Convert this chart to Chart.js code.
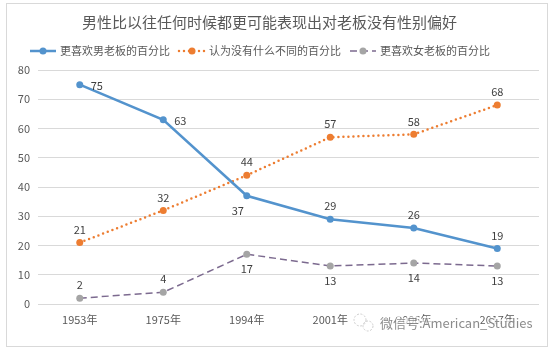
<!DOCTYPE html>
<html>
<head>
<meta charset="utf-8">
<script src="https://cdn.jsdelivr.net/npm/chart.js@4.4.1/dist/chart.umd.min.js"></script>
<style>
html, body { margin: 0; padding: 0; background: #fff; }
</style>
</head>
<body>
<canvas id="chart" width="559" height="350"></canvas>
<script>
// data
const years = ['1953年', '1975年', '1994年', '2001年', '2006年', '2017年'];
const preferMale = [75, 63, 37, 29, 26, 19];
const noDifference = [21, 32, 44, 57, 58, 68];
const preferFemale = [2, 4, 17, 13, 14, 13];
const seriesNames = ['更喜欢男老板的百分比', '认为没有什么不同的百分比', '更喜欢女老板的百分比'];
const yMin = 0, yMax = 80, yStep = 10;

// where each value label sits relative to its point
const labelPos = [
    ['right', 'right', 'belowLeft', 'above', 'above', 'above'],
    ['above', 'above', 'above', 'above', 'above', 'above'],
    ['above', 'above', 'below', 'below', 'below', 'below']
];

const FONT = '"Noto Sans CJK SC", "Noto Sans", sans-serif';
const TEXT = '#595959';

const ctx = document.getElementById('chart').getContext('2d');

// frame round the whole chart
const framePlugin = {
    id: 'frame',
    beforeDraw(chart) {
        const c = chart.ctx;
        c.save();
        c.fillStyle = '#fff';
        c.fillRect(0, 0, chart.width, chart.height);
        c.strokeStyle = '#d9d9d9';
        c.lineWidth = 1;
        c.strokeRect(6.5, 3.5, 541, 343);
        c.restore();
    }
};

// excel-like legend: line with a marker in the middle
const legendPlugin = {
    id: 'excelLegend',
    afterDraw(chart) {
        const c = chart.ctx;
        const y = 51;
        let x = 29;
        c.save();
        c.font = '11px ' + FONT;
        c.textBaseline = 'middle';
        chart.data.datasets.forEach(ds => {
            c.strokeStyle = ds.borderColor;
            c.lineWidth = ds.borderWidth;
            c.lineCap = ds.borderCapStyle || 'butt';
            c.setLineDash(ds.borderDash || []);
            c.beginPath();
            c.moveTo(x + 1, y);
            c.lineTo(x + 27, y);
            c.stroke();
            c.setLineDash([]);
            c.fillStyle = ds.pointBackgroundColor;
            c.beginPath();
            c.arc(x + 14, y, 3.5, 0, Math.PI * 2);
            c.fill();
            c.fillStyle = TEXT;
            c.textAlign = 'left';
            c.fillText(ds.label, x + 31, y);
            x += 31 + c.measureText(ds.label).width + 8;
        });
        c.restore();
    }
};

// value labels next to the points
const valueLabelPlugin = {
    id: 'valueLabels',
    afterDatasetsDraw(chart) {
        const c = chart.ctx;
        c.save();
        c.font = '11px ' + FONT;
        c.fillStyle = '#404040';
        chart.data.datasets.forEach((ds, i) => {
            const meta = chart.getDatasetMeta(i);
            meta.data.forEach((pt, j) => {
                const pos = labelPos[i][j];
                const txt = String(ds.data[j]);
                let tx = pt.x, ty = pt.y;
                c.textBaseline = 'middle';
                c.textAlign = 'center';
                if (pos === 'right') { c.textAlign = 'left'; tx += 11; ty += 1; }
                else if (pos === 'above') { ty -= 13; }
                else if (pos === 'below') { ty += 15; }
                else if (pos === 'belowLeft') { ty += 15; tx -= 9; }
                c.fillText(txt, tx, ty);
            });
        });
        c.restore();
    }
};

// watermark over the bottom right
const watermarkPlugin = {
    id: 'watermark',
    afterDraw(chart) {
        const c = chart.ctx;
        c.save();
        c.strokeStyle = '#cfcfcf';
        c.lineWidth = 1;
        c.setLineDash([2, 1.5]);
        c.beginPath();
        c.arc(360, 320, 6, 0, Math.PI * 2);
        c.stroke();
        c.beginPath();
        c.arc(368, 326, 5, 0, Math.PI * 2);
        c.stroke();
        c.setLineDash([]);
        c.font = '13px ' + FONT;
        c.textBaseline = 'middle';
        c.textAlign = 'left';
        c.lineWidth = 3;
        c.strokeStyle = 'rgba(255,255,255,0.7)';
        c.strokeText('微信号:American_Studies', 380, 323);
        c.fillStyle = 'rgba(110,110,110,0.8)';
        c.fillText('微信号:American_Studies', 380, 323);
        c.restore();
    }
};

const chart = new Chart(ctx, {
    type: 'line',
    data: {
        labels: years,
        datasets: [{
            label: seriesNames[0],
            data: preferMale,
            borderColor: '#5393cd',
            backgroundColor: '#5393cd',
            borderWidth: 2.5,
            pointRadius: 3.5,
            pointBackgroundColor: '#5393cd',
            pointBorderColor: '#5393cd',
            pointBorderWidth: 0,
            tension: 0
        }, {
            label: seriesNames[1],
            data: noDifference,
            borderColor: '#ed7d31',
            backgroundColor: '#ed7d31',
            borderWidth: 2.5,
            borderDash: [0, 5],
            borderCapStyle: 'round',
            pointRadius: 3.5,
            pointBackgroundColor: '#ed7d31',
            pointBorderColor: '#ed7d31',
            pointBorderWidth: 0,
            tension: 0
        }, {
            label: seriesNames[2],
            data: preferFemale,
            borderColor: '#7c6a8f',
            backgroundColor: '#a5a5a5',
            borderWidth: 1.5,
            borderDash: [7, 4],
            pointRadius: 3.5,
            pointBackgroundColor: '#a5a5a5',
            pointBorderColor: '#a5a5a5',
            pointBorderWidth: 0,
            tension: 0
        }]
    },
    options: {
        responsive: false,
        animation: false,
        layout: { padding: { top: 4, left: 0, right: 20, bottom: 10 } },
        plugins: {
            legend: { display: false },
            tooltip: { enabled: false },
            title: {
                display: true,
                text: '男性比以往任何时候都更可能表现出对老板没有性别偏好',
                color: TEXT,
                font: { family: FONT, size: 15, weight: 'normal' },
                padding: { top: 9, bottom: 39 }
            }
        },
        scales: {
            x: {
                offset: true,
                grid: { display: false, drawTicks: false },
                border: { display: false },
                ticks: { color: TEXT, font: { family: FONT, size: 11 }, padding: 9 },
                afterFit(s) { s.height = 36; }
            },
            y: {
                min: yMin,
                max: yMax,
                grid: { color: '#d9d9d9', drawTicks: false },
                border: { display: false },
                ticks: { stepSize: yStep, color: TEXT, font: { family: FONT, size: 11 }, padding: 8 },
                afterFit(s) { s.width = 38; }
            }
        }
    },
    plugins: [framePlugin, valueLabelPlugin, legendPlugin, watermarkPlugin]
});
</script>
</body>
</html>
